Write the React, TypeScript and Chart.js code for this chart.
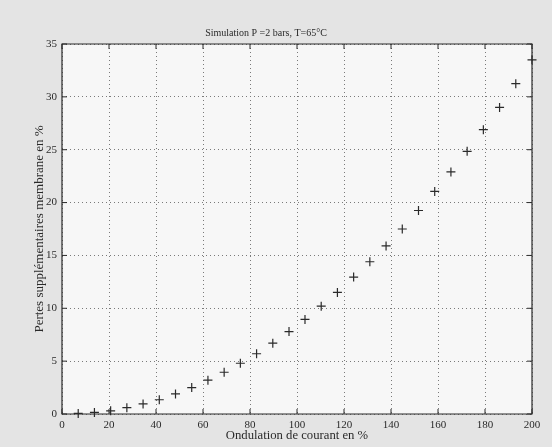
import React, { useEffect, useRef } from "react";
import { Chart, registerables } from "chart.js";

Chart.register(...registerables);

const chartTitle = "Simulation P =2 bars, T=65°C";
const xTitle = "Ondulation de courant en %";
const yTitle = "Pertes supplémentaires membrane en %";

const xValues = [6.9, 13.8, 20.7, 27.6, 34.5, 41.4, 48.3, 55.2, 62.1, 69, 75.9, 82.8, 89.7, 96.6, 103.4, 110.3, 117.2, 124.1, 131, 137.9, 144.8, 151.7, 158.6, 165.5, 172.4, 179.3, 186.2, 193.1, 200];
const yValues = [0.05, 0.15, 0.3, 0.6, 0.95, 1.35, 1.9, 2.5, 3.2, 3.95, 4.8, 5.7, 6.7, 7.8, 8.95, 10.2, 11.5, 12.95, 14.4, 15.9, 17.5, 19.25, 21.05, 22.9, 24.85, 26.9, 29.0, 31.25, 33.5];

const xTicks = [0, 20, 40, 60, 80, 100, 120, 140, 160, 180, 200];
const yTicks = [0, 5, 10, 15, 20, 25, 30, 35];

const FONT = "'Liberation Serif', 'DejaVu Serif', serif";
const INK = "#2a2a2a";

const framePlugin = {
  id: "frame",
  beforeDraw(chart: any) {
    const { ctx, width, height, chartArea: a } = chart;
    ctx.save();
    ctx.fillStyle = "#e4e4e4";
    ctx.fillRect(0, 0, width, height);
    ctx.fillStyle = "#f7f7f7";
    ctx.fillRect(a.left, a.top, a.right - a.left, a.bottom - a.top);
    ctx.restore();
  },
  afterDraw(chart: any) {
    const { ctx, chartArea: a, scales } = chart;
    ctx.save();
    ctx.strokeStyle = INK;
    ctx.lineWidth = 1.2;
    ctx.beginPath();
    ctx.rect(a.left, a.top, a.right - a.left, a.bottom - a.top);
    ctx.stroke();
    const t = 5;
    ctx.lineWidth = 1;
    ctx.beginPath();
    for (const v of xTicks) {
      const px = scales.x.getPixelForValue(v);
      ctx.moveTo(px, a.bottom);
      ctx.lineTo(px, a.bottom - t);
      ctx.moveTo(px, a.top);
      ctx.lineTo(px, a.top + t);
    }
    for (const v of yTicks) {
      const py = scales.y.getPixelForValue(v);
      ctx.moveTo(a.left, py);
      ctx.lineTo(a.left + t, py);
      ctx.moveTo(a.right, py);
      ctx.lineTo(a.right - t, py);
    }
    ctx.stroke();
    ctx.restore();
  },
};

export default function App() {
  const ref = useRef<HTMLCanvasElement | null>(null);

  useEffect(() => {
    document.body.style.margin = "0";
    const canvas = ref.current;
    if (!canvas) return;
    const chart = new Chart(canvas, {
      type: "scatter",
      data: {
        datasets: [
          {
            data: xValues.map((x, i) => ({ x, y: yValues[i] })),
            pointStyle: "cross",
            pointRadius: 4.5,
            pointBorderWidth: 1.2,
            borderColor: INK,
            backgroundColor: INK,
            showLine: false,
            clip: false,
          },
        ],
      },
      options: {
        animation: false,
        responsive: false,
        layout: { padding: { left: 0, right: 20, top: 0, bottom: 0 } },
        plugins: {
          legend: { display: false },
          tooltip: { enabled: false },
          title: {
            display: true,
            text: chartTitle,
            color: INK,
            font: { family: FONT, size: 10, weight: "normal" },
            padding: { top: 27, bottom: 5 },
          },
        },
        scales: {
          x: {
            type: "linear",
            min: 0,
            max: 200,
            afterBuildTicks: (s: any) => {
              s.ticks = xTicks.map((v) => ({ value: v }));
            },
            afterFit: (s: any) => {
              s.height = 33;
            },
            grid: { color: "#7a7a7a", lineWidth: 1, drawTicks: false },
            border: { display: false, dash: [1, 3] },
            ticks: { color: INK, padding: 5, font: { family: FONT, size: 11 }, maxRotation: 0 },
            title: {
              display: true,
              text: xTitle,
              color: INK,
              font: { family: FONT, size: 12.7 },
              padding: { top: 0, bottom: 3.5 },
            },
          },
          y: {
            type: "linear",
            min: 0,
            max: 35,
            afterBuildTicks: (s: any) => {
              s.ticks = yTicks.map((v) => ({ value: v }));
            },
            afterFit: (s: any) => {
              s.width = 62;
            },
            grid: { color: "#7a7a7a", lineWidth: 1, drawTicks: false },
            border: { display: false, dash: [1, 3] },
            ticks: { color: INK, padding: 5, font: { family: FONT, size: 11 } },
            title: {
              display: true,
              text: yTitle,
              color: INK,
              font: { family: FONT, size: 13 },
              padding: { top: 32, bottom: 0 },
            },
          },
        },
      },
      plugins: [framePlugin],
    } as any);
    return () => chart.destroy();
  }, []);

  return <canvas ref={ref} width={552} height={447} style={{ display: "block" }} />;
}
